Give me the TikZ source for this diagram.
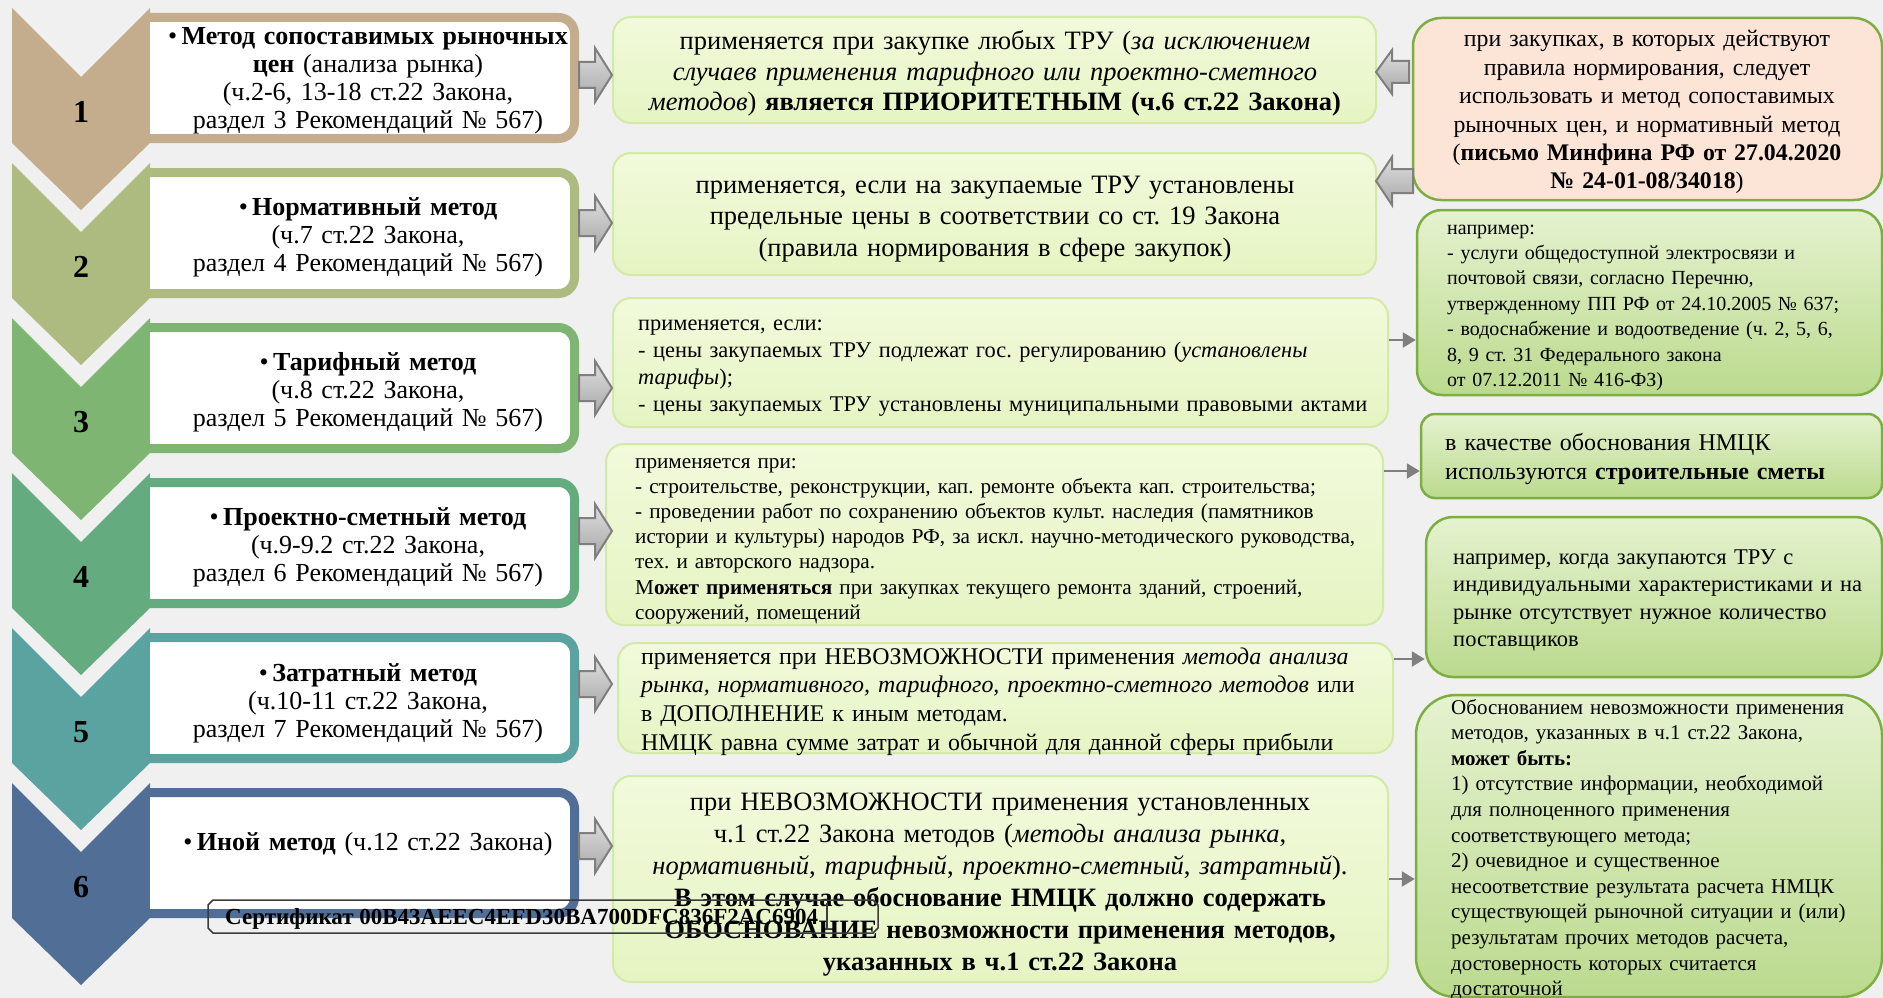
\documentclass[tikz,border=0pt]{standalone}
\usepackage{fontspec}
\setmainfont{Liberation Serif}
\usetikzlibrary{arrows.meta}
\definecolor{bgc}{HTML}{F0F0F0}
\definecolor{cA}{HTML}{C3AD8C}
\definecolor{cB}{HTML}{AEBB80}
\definecolor{cC}{HTML}{7FB572}
\definecolor{cD}{HTML}{64AB7F}
\definecolor{cE}{HTML}{5AA3A1}
\definecolor{cF}{HTML}{506E96}
\definecolor{midtop}{HTML}{F1FADB}
\definecolor{midbot}{HTML}{E6F4C3}
\definecolor{midline}{HTML}{D3E9A7}
\definecolor{grtop}{HTML}{E5F2CF}
\definecolor{grbot}{HTML}{BBDA8E}
\definecolor{grline}{HTML}{7DAE42}
\definecolor{peach}{HTML}{FCE4D6}
\definecolor{arrtop}{HTML}{DEDEDE}
\definecolor{arrbot}{HTML}{A8A8A8}
\definecolor{arrline}{HTML}{7F7F7F}
\definecolor{stampc}{HTML}{3C3C3C}
\newcommand{\myfs}[2]{\fontsize{#1pt}{#2pt}\selectfont}
\frenchspacing
\begin{document}
\frenchspacing
\begin{tikzpicture}[x=1pt,y=-1pt,
  frame/.style={line width=9pt},
  midbox/.style={draw=midline, line width=2pt, top color=midtop, bottom color=midbot, rounded corners=18pt, inner sep=0pt},
  grbox/.style={draw=grline, line width=2.5pt, top color=grtop, bottom color=grbot, inner sep=0pt},
  pchbox/.style={draw=grline, line width=2.5pt, fill=peach, inner sep=0pt, rounded corners=28pt},
  blk/.style={draw=arrline, line width=2pt, top color=arrtop, bottom color=arrbot, line join=miter},
  conn/.style={draw=arrline, line width=2.5pt, -{Triangle[length=13pt,width=15pt]}},
  ctext/.style={inner sep=0pt, anchor=base, align=center, text width=#1},
  ltext/.style={inner sep=0pt, anchor=base west, align=left, text width=#1},
  num/.style={inner sep=0pt, font=\bfseries\myfs{32}{32}},
]
\useasboundingbox (0,0) rectangle (1883,998);
\clip (0,0) rectangle (1883,998);
\fill[bgc] (0,0) rectangle (1883,998);

% chevrons and method frames
\foreach \k/\c/\n in {0/cA/1,1/cB/2,2/cC/3,3/cD/4,4/cE/5,5/cF/6}{
  \fill[\c] (12,{8+155*\k}) -- (81,{77+155*\k}) -- (150,{8+155*\k}) -- (150,{143+155*\k})
     -- (81,{210+155*\k}) -- (12,{143+155*\k}) -- cycle;
  \node[num] (n\n) at (81,{112+155*\k}) {\n};
  \fill[white] (150,{17.5+155*\k}) -- (558.5,{17.5+155*\k}) arc[start angle=-90,end angle=0,radius=16]
     -- (574.5,{122.5+155*\k}) arc[start angle=0,end angle=90,radius=16] -- (150,{138.5+155*\k}) -- cycle;
  \draw[frame, draw=\c] (150,{17.5+155*\k}) -- (558.5,{17.5+155*\k}) arc[start angle=-90,end angle=0,radius=16]
     -- (574.5,{122.5+155*\k}) arc[start angle=0,end angle=90,radius=16] -- (150,{138.5+155*\k});
}

% middle boxes
\node[midbox, minimum width=763pt, minimum height=106pt] (m1) at (994.5,70) {};
\node[midbox, minimum width=763pt, minimum height=122pt] (m2) at (994.5,214) {};
\node[midbox, minimum width=775pt, minimum height=129pt] (m3) at (1000.5,362.5) {};
\node[midbox, minimum width=777pt, minimum height=181pt] (m4) at (994.5,534.5) {};
\node[midbox, minimum width=775pt, minimum height=110pt] (m5) at (1005.5,698) {};
\node[midbox, minimum width=775pt, minimum height=206pt] (m6) at (1000.5,879) {};

% right boxes
\node[pchbox, minimum width=469pt, minimum height=182pt] (pc) at (1647.5,109) {};
\node[grbox, rounded corners=25pt, minimum width=465pt, minimum height=185pt] (r1) at (1649.5,302.5) {};
\node[grbox, rounded corners=14pt, minimum width=461pt, minimum height=84pt] (r2) at (1651.5,456) {};
\node[grbox, rounded corners=27pt, minimum width=456pt, minimum height=160pt] (r3) at (1654,597) {};
\node[grbox, rounded corners=40pt, minimum width=466pt, minimum height=302pt] (r4) at (1649,846) {};

% block arrows to the right
\foreach \c in {75,223,388,531,684,846}{
  \draw[blk] (579,{\c-13}) -- (595,{\c-13}) -- (595,{\c-27}) -- (612,\c) -- (595,{\c+27})
     -- (595,{\c+13}) -- (579,{\c+13}) -- cycle;
}
% block arrows to the left (from the peach box)
\draw[blk] (1409,61) -- (1392,61) -- (1392,50) -- (1376,72) -- (1392,94) -- (1392,83) -- (1409,83) -- cycle;
\draw[blk] (1413,169) -- (1392,169) -- (1392,157) -- (1376,181) -- (1392,205) -- (1392,193) -- (1413,193) -- cycle;

% connectors
\draw[conn] (m3.east |- 0,340) -- (r1.west |- 0,340);
\draw[conn] (m4.east |- 0,471) -- (r2.west |- 0,471);
\draw[conn] (m5.east |- 0,659) -- (r3.west |- 0,659);
\draw[conn] (m6.east |- 0,879) -- (r4.west |- 0,879);

% method texts
\begin{scope}[every node/.append style={font=\myfs{26}{28}}]
\node[ctext=430pt] (lt1) at (368,45) {•\,\textbf{Метод сопоставимых рыночных}\\ \textbf{цен} (анализа рынка)\\ (ч.2-6, 13-18 ст.22 Закона,\\ раздел 3 Рекомендаций № 567)};
\node[ctext=430pt] (lt2) at (368,215) {•\,\textbf{Нормативный метод}\\ (ч.7 ст.22 Закона,\\ раздел 4 Рекомендаций № 567)};
\node[ctext=430pt] (lt3) at (368,370) {•\,\textbf{Тарифный метод}\\ (ч.8 ст.22 Закона,\\ раздел 5 Рекомендаций № 567)};
\node[ctext=430pt] (lt4) at (368,525) {•\,\textbf{Проектно-сметный метод}\\ (ч.9-9.2 ст.22 Закона,\\ раздел 6 Рекомендаций № 567)};
\node[ctext=430pt] (lt5) at (368,681) {•\,\textbf{Затратный метод}\\ (ч.10-11 ст.22 Закона,\\ раздел 7 Рекомендаций № 567)};
\node[ctext=430pt] (lt6) at (368,850) {•\,\textbf{Иной метод} (ч.12 ст.22 Закона)};
\end{scope}

% middle texts
\node[ctext=760pt, font=\myfs{26.5}{30.5}] (mt1) at (995,50) {применяется при закупке любых ТРУ (\textit{за исключением}\\ \textit{случаев применения тарифного или проектно-сметного}\\ \textit{методов}) \textbf{является ПРИОРИТЕТНЫМ (ч.6 ст.22 Закона)}};
\node[ctext=760pt, font=\myfs{26.5}{31.5}] (mt2) at (995,193) {применяется, если на закупаемые ТРУ установлены\\ предельные цены в соответствии со ст. 19 Закона\\ (правила нормирования в сфере закупок)};
\node[ltext=760pt, font=\myfs{22.4}{27.3}] (mt3) at (638,330) {применяется, если:\\ - цены закупаемых ТРУ подлежат гос. регулированию (\textit{установлены}\\ \textit{тарифы});\\ - цены закупаемых ТРУ установлены муниципальными правовыми актами};
\node[ltext=760pt, font=\myfs{21.2}{25.2}] (mt4) at (635,468) {применяется при:\\ - строительстве, реконструкции, кап. ремонте объекта кап. строительства;\\ - проведении работ по сохранению объектов культ. наследия (памятников\\ истории и культуры) народов РФ, за искл. научно-методического руководства,\\ тех. и авторского надзора.\\ М\textbf{ожет применяться} при закупках текущего ремонта зданий, строений,\\ сооружений, помещений};
\node[ltext=760pt, font=\myfs{23.9}{28.7}] (mt5) at (641,664) {применяется при НЕВОЗМОЖНОСТИ применения \textit{метода анализа}\\ \textit{рынка, нормативного, тарифного, проектно-сметного методов} или\\ в ДОПОЛНЕНИЕ к иным методам.\\ НМЦК равна сумме затрат и обычной для данной сферы прибыли};
\node[ctext=770pt, font=\myfs{26.5}{32}] (mt6) at (1000,810) {при НЕВОЗМОЖНОСТИ применения установленных\\ ч.1 ст.22 Закона методов (\textit{методы анализа рынка},\\ \textit{нормативный}, \textit{тарифный}, \textit{проектно-сметный}, \textit{затратный}).\\ \textbf{В этом случае обоснование НМЦК должно содержать}\\ \textbf{ОБОСНОВАНИЕ невозможности применения методов,}\\ \textbf{указанных в ч.1 ст.22 Закона}};

% right texts
\node[ctext=460pt, font=\myfs{23.8}{28.4}] (pt) at (1647,47) {при закупках, в которых действуют\\ правила нормирования, следует\\ использовать и метод сопоставимых\\ рыночных цен, и нормативный метод\\ (\textbf{письмо Минфина РФ от 27.04.2020}\\ \textbf{№ 24-01-08/34018})};
\node[ltext=430pt, font=\myfs{20}{25.4}] (rt1) at (1447,234) {например:\\ - услуги общедоступной электросвязи и\\ почтовой связи, согласно Перечню,\\ утвержденному ПП РФ от 24.10.2005 № 637;\\ - водоснабжение и водоотведение (ч. 2, 5, 6,\\ 8, 9 ст. 31 Федерального закона\\ от 07.12.2011 № 416-ФЗ)};
\node[ltext=430pt, font=\myfs{24}{29}] (rt2) at (1445,450) {в качестве обоснования НМЦК\\ используются \textbf{строительные сметы}};
\node[ltext=430pt, font=\myfs{22.5}{27.5}] (rt3) at (1453,564) {например, когда закупаются ТРУ с\\ индивидуальными характеристиками и на\\ рынке отсутствует нужное количество\\ поставщиков};
\node[ltext=430pt, font=\myfs{21}{25.6}] (rt4) at (1451,714) {Обоснованием невозможности применения\\ методов, указанных в ч.1 ст.22 Закона,\\ \textbf{может быть:}\\ 1) отсутствие информации, необходимой\\ для полноценного применения\\ соответствующего метода;\\ 2) очевидное и существенное\\ несоответствие результата расчета НМЦК\\ существующей рыночной ситуации и (или)\\ результатам прочих методов расчета,\\ достоверность которых считается\\ достаточной};

% certificate stamp
\draw[stampc, line width=1.5pt] (213,900) -- (873,900) -- (878,905) -- (878,928) -- (873,933)
   -- (213,933) -- (208,928) -- (208,905) -- cycle;
\draw[stampc, line width=1.5pt] (827,903) -- (827,930);
\node[inner sep=0pt, anchor=base west, font=\bfseries\myfs{23}{23}] (st) at (225,924) {Сертификат 00B43AEEC4EFD30BA700DFC836F2AC6904};
\end{tikzpicture}
\end{document}
